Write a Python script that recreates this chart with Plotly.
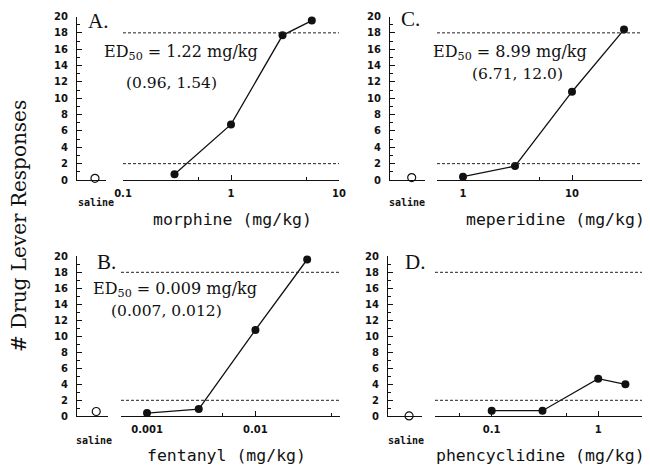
import plotly.graph_objects as go

# ---------------- data ----------------
panel_letters = ["A.", "C.", "B.", "D."]
drug_titles = ["morphine (mg/kg)", "meperidine (mg/kg)", "fentanyl (mg/kg)", "phencyclidine (mg/kg)"]

morphine_dose = [0.3, 1, 3, 5.6]
morphine_resp = [0.7, 6.8, 17.7, 19.5]
morphine_saline = [0.2]

meperidine_dose = [1, 3, 10, 30]
meperidine_resp = [0.4, 1.7, 10.8, 18.4]
meperidine_saline = [0.3]

fentanyl_dose = [0.001, 0.003, 0.01, 0.03]
fentanyl_resp = [0.4, 0.9, 10.8, 19.6]
fentanyl_saline = [0.6]

pcp_dose = [0.1, 0.3, 1, 1.8]
pcp_resp = [0.7, 0.7, 4.7, 4.0]
pcp_saline = [0.05]

morphine_ticks = [0.1, 1, 10]
morphine_ticktext = ["0.1", "1", "10"]
meperidine_ticks = [1, 10]
meperidine_ticktext = ["1", "10"]
fentanyl_ticks = [0.001, 0.01]
fentanyl_ticktext = ["0.001", "0.01"]
pcp_ticks = [0.1, 1]
pcp_ticktext = ["0.1", "1"]

morphine_minor = [0.5, 5]
meperidine_minor = [5]
fentanyl_minor = [0.005, 0.05]
pcp_minor = [0.05, 0.5]

criterion_levels = [2, 18]
ed50_lines = ["ED<sub>50</sub> = 1.22 mg/kg", "ED<sub>50</sub> = 8.99 mg/kg",
              "ED<sub>50</sub> = 0.009 mg/kg", None]
ci_lines = ["(0.96, 1.54)", "(6.71, 12.0)", "(0.007, 0.012)", None]

y_ticks = list(range(0, 21, 2))
saline_label = "saline"
y_title = "# Drug Lever Responses"

# ---------------- layout geometry (window pixels) ----------------
# the page body has an 8px default margin, so the figure is drawn 8px in
OFF = 8
W, H = 650 - OFF, 466 - OFF


def fx(px):
    return (px - OFF) / W


def fy(py):
    return 1 - (py - OFF) / H


panels = [
    dict(dose=morphine_dose, resp=morphine_resp, sal=morphine_saline,
         ticks=morphine_ticks, ticktext=morphine_ticktext, minor=morphine_minor,
         ydom=(180, 16.5), sdom=(77, 106), mdom=(123, 339), mrange=(-1.0, 1.0),
         letter_xy=(86, 21), title_xy=(232, 219), saline_xy=(96, 203),
         ed_xy=(102, 52), ci_xy=(172, 83)),
    dict(dose=meperidine_dose, resp=meperidine_resp, sal=meperidine_saline,
         ticks=meperidine_ticks, ticktext=meperidine_ticktext, minor=meperidine_minor,
         ydom=(180, 16.5), sdom=(390, 425), mdom=(437, 647), mrange=(-0.2385, 1.688),
         letter_xy=(399, 19), title_xy=(555, 219), saline_xy=(407, 203),
         ed_xy=(431, 52), ci_xy=(517, 74)),
    dict(dose=fentanyl_dose, resp=fentanyl_resp, sal=fentanyl_saline,
         ticks=fentanyl_ticks, ticktext=fentanyl_ticktext, minor=fentanyl_minor,
         ydom=(416.3, 256.3), sdom=(77, 108), mdom=(121, 340), mrange=(-3.24, -1.22),
         letter_xy=(95, 262), title_xy=(226, 455), saline_xy=(94, 440),
         ed_xy=(91, 289), ci_xy=(166, 311)),
    dict(dose=pcp_dose, resp=pcp_resp, sal=pcp_saline,
         ticks=pcp_ticks, ticktext=pcp_ticktext, minor=pcp_minor,
         ydom=(416.3, 256.3), sdom=(388, 422), mdom=(435, 647), mrange=(-1.532, 0.458),
         letter_xy=(403, 262), title_xy=(540, 455), saline_xy=(406, 440),
         ed_xy=None, ci_xy=None),
]

TICKFONT = dict(family="DejaVu Sans, sans-serif", size=10, color="#111", weight="bold")
SERIF = "DejaVu Serif, serif"
LINE = "#111"

fig = go.Figure()
layout = dict(
    width=W, height=H, margin=dict(l=0, r=0, t=0, b=0, pad=0, autoexpand=False),
    paper_bgcolor="white", plot_bgcolor="white", showlegend=False,
)
annotations = []
shapes = []

for i, p in enumerate(panels):
    sx = "x" if i == 0 else f"x{2 * i + 1}"
    mx = f"x{2 * i + 2}"
    yy = "y" if i == 0 else f"y{i + 1}"
    sx_key = "xaxis" if i == 0 else f"xaxis{2 * i + 1}"
    mx_key = f"xaxis{2 * i + 2}"
    y_key = "yaxis" if i == 0 else f"yaxis{i + 1}"

    layout[y_key] = dict(
        domain=[fy(p["ydom"][0]), fy(p["ydom"][1])], range=[0, 20],
        anchor=sx, showline=True, linecolor=LINE, linewidth=1.2,
        tickmode="array", tickvals=y_ticks, ticks="inside", ticklen=5,
        tickcolor=LINE, tickfont=TICKFONT, ticklabelstandoff=6,
        showgrid=False, zeroline=False,
        minor=dict(dtick=1, ticks="inside", ticklen=3, tickcolor=LINE, showgrid=False),
    )
    layout[sx_key] = dict(
        domain=[fx(p["sdom"][0]), fx(p["sdom"][1])], range=[0, 1], anchor=yy,
        showline=True, linecolor=LINE, linewidth=1.2, showticklabels=False,
        ticks="", showgrid=False, zeroline=False,
    )
    layout[mx_key] = dict(
        domain=[fx(p["mdom"][0]), fx(p["mdom"][1])], type="log",
        range=list(p["mrange"]), anchor=yy,
        showline=True, linecolor=LINE, linewidth=1.2,
        tickmode="array", tickvals=p["ticks"], ticktext=p["ticktext"],
        ticks="inside", ticklen=5, tickcolor=LINE, tickfont=TICKFONT,
        ticklabelstandoff=4, showgrid=False, zeroline=False,
        minor=dict(tickmode="array", tickvals=p["minor"], ticks="inside",
                   ticklen=3, tickcolor=LINE, showgrid=False),
    )

    for lvl in criterion_levels:
        shapes.append(dict(type="line", xref=f"{mx} domain", yref=yy,
                           x0=0, x1=1, y0=lvl, y1=lvl,
                           line=dict(color="#222", width=1, dash="3px,2px")))

    fig.add_trace(go.Scatter(
        x=[0.62], y=p["sal"], xaxis=sx, yaxis=yy, mode="markers",
        marker=dict(symbol="circle-open", size=8, color="#111", line=dict(width=1.2)),
        cliponaxis=False,
    ))
    fig.add_trace(go.Scatter(
        x=p["dose"], y=p["resp"], xaxis=mx, yaxis=yy, mode="lines+markers",
        line=dict(color="#111", width=1.3),
        marker=dict(symbol="circle", size=8, color="#111"),
        cliponaxis=False,
    ))

    lx, ly = p["letter_xy"]
    annotations.append(dict(text=panel_letters[i], x=fx(lx), y=fy(ly), xref="paper", yref="paper",
                            xanchor="left", yanchor="middle", showarrow=False,
                            font=dict(family="Liberation Serif, Times New Roman, serif",
                                      size=21, color="#111")))
    tx, ty = p["title_xy"]
    annotations.append(dict(text=drug_titles[i], x=fx(tx), y=fy(ty), xref="paper", yref="paper",
                            xanchor="center", yanchor="middle", showarrow=False,
                            font=dict(family="DejaVu Sans Mono, monospace", size=16.5, color="#111")))
    sxl, syl = p["saline_xy"]
    annotations.append(dict(text=saline_label, x=fx(sxl), y=fy(syl), xref="paper", yref="paper",
                            xanchor="center", yanchor="middle", showarrow=False,
                            font=dict(family="DejaVu Sans Mono, monospace", size=10,
                                      color="#111", weight="bold")))
    if ed50_lines[i]:
        ex, ey = p["ed_xy"]
        annotations.append(dict(text=ed50_lines[i], x=fx(ex), y=fy(ey), xref="paper", yref="paper",
                                xanchor="left", yanchor="middle", showarrow=False,
                                font=dict(family=SERIF, size=16, color="#111")))
        cx, cy = p["ci_xy"]
        annotations.append(dict(text=ci_lines[i], x=fx(cx), y=fy(cy), xref="paper", yref="paper",
                                xanchor="center", yanchor="middle", showarrow=False,
                                font=dict(family=SERIF, size=15.5, color="#111")))

annotations.append(dict(text=y_title, x=fx(19), y=fy(226), xref="paper", yref="paper",
                        xanchor="center", yanchor="middle", showarrow=False, textangle=-90,
                        font=dict(family=SERIF, size=20, color="#111")))

layout["annotations"] = annotations
layout["shapes"] = shapes
fig.update_layout(**layout)
fig.write_html("out.html")
